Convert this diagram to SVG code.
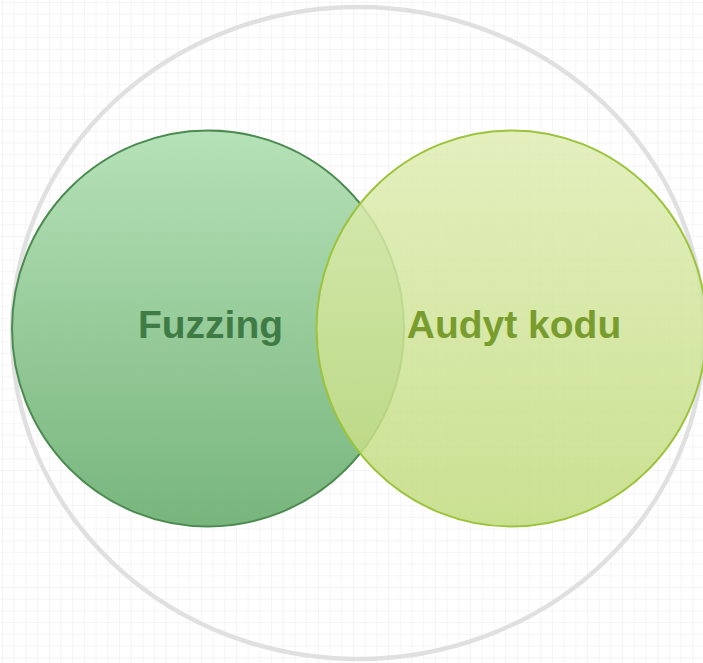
<svg xmlns="http://www.w3.org/2000/svg" width="703" height="663" viewBox="0 0 703 663">
  <defs>
    <pattern id="grid" x="2" y="2" width="11.7" height="11.7" patternUnits="userSpaceOnUse">
      <path d="M0 0H11.7M0 0V11.7" fill="none" stroke="#ececec" stroke-width="1"/>
    </pattern>
    <linearGradient id="gFuzz" x1="0" y1="0" x2="0" y2="1">
      <stop offset="0" stop-color="#b0dfb2"/>
      <stop offset="1" stop-color="#6caf71"/>
    </linearGradient>
    <linearGradient id="gAudit" x1="0" y1="0" x2="0" y2="1">
      <stop offset="0" stop-color="#dfedb3"/>
      <stop offset="1" stop-color="#c1db7e"/>
    </linearGradient>
  </defs>
  <style>
    .lbl { font-family: "Liberation Sans", Arial, sans-serif; font-weight: bold; font-size: 39px; text-anchor: middle; }
  </style>
  <rect width="703" height="663" fill="#ffffff"/>
  <rect width="703" height="663" fill="url(#grid)"/>
  <g id="outer">
    <ellipse cx="358" cy="333" rx="346" ry="326" fill="none" stroke="#e0e0e0" stroke-width="4.5"/>
  </g>
  <g id="fuzzing">
    <ellipse cx="208" cy="328.5" rx="196" ry="198" fill="url(#gFuzz)" fill-opacity="0.92" stroke="#4b8b50" stroke-width="2"/>
    <text class="lbl" x="210.5" y="338" fill="#3f7b45">Fuzzing</text>
  </g>
  <g id="audyt">
    <ellipse cx="511.5" cy="328.5" rx="195" ry="198" fill="url(#gAudit)" fill-opacity="0.85" stroke="#9cc33c" stroke-width="2"/>
    <text class="lbl" x="514" y="338" fill="#789d2e">Audyt kodu</text>
  </g>
  <g id="connectors"/>
</svg>
